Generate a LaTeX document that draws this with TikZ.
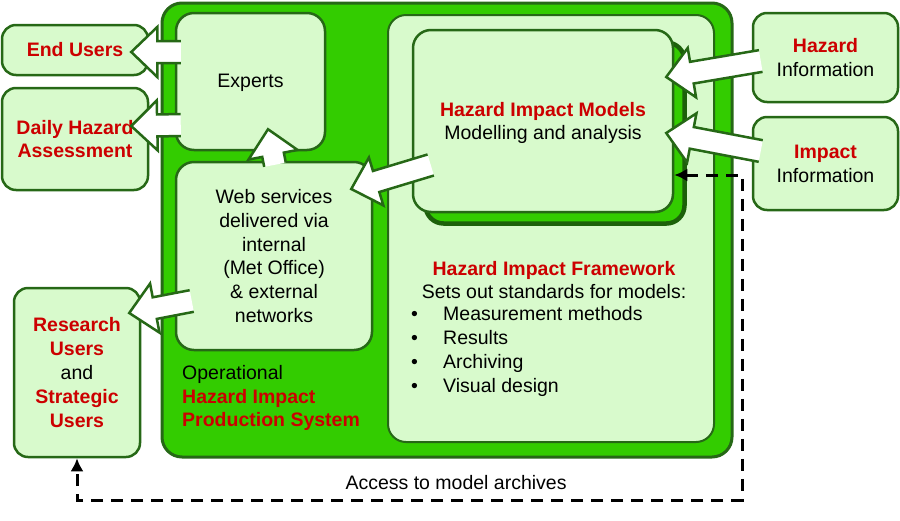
\documentclass[tikz,border=0pt]{standalone}
\usepackage{fontspec}
\setmainfont{Liberation Sans}
\usepackage{xcolor}
\usepackage{tikz}
\usetikzlibrary{arrows.meta,positioning,calc}
\definecolor{hgreen}{RGB}{51,204,0}
\definecolor{hdark}{RGB}{38,104,22}
\definecolor{hshade}{RGB}{28,96,10}
\definecolor{hlight}{RGB}{216,250,204}
\definecolor{hred}{RGB}{204,0,0}
\newcommand{\hz}[1]{\textbf{\color{hred}#1}}
\newcommand{\blockarr}[2]{%
  \coordinate (hb) at ($(#2)!26pt!(#1)$);
  \coordinate (sl) at ($(#1)!11pt!90:(#2)$);
  \coordinate (sr) at ($(#1)!11pt!-90:(#2)$);
  \coordinate (bl) at ($(hb)!11pt!90:(#2)$);
  \coordinate (br) at ($(hb)!11pt!-90:(#2)$);
  \coordinate (hl) at ($(hb)!25pt!90:(#2)$);
  \coordinate (hr) at ($(hb)!25pt!-90:(#2)$);
  \fill[white] (sl) -- (bl) -- (hl) -- (#2) -- (hr) -- (br) -- (sr) -- cycle;
  \draw[barr] (sl) -- (bl) -- (hl) -- (#2) -- (hr) -- (br) -- (sr);}

\begin{document}
\begin{tikzpicture}[x=1pt,y=-1pt,font=\fontsize{19.5}{23.8}\selectfont,
  box/.style={draw=hdark,line width=2.5pt,rounded corners=18pt,fill=hlight,align=center,inner sep=0pt},
  side/.style={box,rounded corners=14pt},
  txt/.style={inner sep=0pt},
  barr/.style={draw=hdark,line width=2.5pt,line join=miter},
  acc/.style={{Latex[length=13pt,width=13pt]}-{Latex[length=13pt,width=13pt]},line width=3pt,dash pattern=on 12pt off 8pt}]
\useasboundingbox (0,0) rectangle (900,520);
\node[box,fill=hgreen,line width=3pt,rounded corners=20pt,minimum width=570,minimum height=454] (sys) at (447,230) {};
\node[box,line width=2pt,minimum width=326,minimum height=427] (fw) at (551,228.5) {};
\node[box,fill=hgreen,draw=hshade,line width=4.5pt,minimum width=259,minimum height=181] (modback) at (555,133) {};
\node[box,minimum width=260,minimum height=182] (mod) at (543,121) {\rule{0pt}{18pt}\hz{Hazard Impact Models}\\Modelling and analysis};
\node[box,minimum width=149,minimum height=137] (experts) at (250.5,81.5) {\rule{0pt}{17pt}Experts};
\node[box,minimum width=196,minimum height=188] (web) at (274,256) {Web services\\delivered via\\internal\\(Met Office)\\\& external\\networks};
\node[txt,anchor=west,align=left] (syslbl) at (182,398) {Operational\\\hz{Hazard Impact}\\\hz{Production System}};
\node[txt,align=center] (fwhead) at (554,280) {\hz{Hazard Impact Framework}\\Sets out standards for models:};
\node[txt,anchor=west,align=left] (fwlist) at (411,351.5) {\makebox[32pt][l]{\textbullet}Measurement methods\\\makebox[32pt][l]{\textbullet}Results\\\makebox[32pt][l]{\textbullet}Archiving\\\makebox[32pt][l]{\textbullet}Visual design};
\node[side,minimum width=146,minimum height=50] (enduser) at (75,50) {\hz{End Users}};
\node[side,minimum width=146,minimum height=102] (daily) at (75,139) {\hz{Daily Hazard}\\\hz{Assessment}};
\node[side,minimum width=126,minimum height=169] (research) at (77,372.5) {\hz{Research}\\\hz{Users}\\and\\\hz{Strategic}\\\hz{Users}};
\node[side,minimum width=145,minimum height=89] (hazinfo) at (825.5,57.5) {\hz{Hazard}\\Information};
\node[side,minimum width=145,minimum height=93] (impinfo) at (825.5,163.5) {\hz{Impact}\\Information};
\coordinate (a1) at ($(experts.west)+(6,-29.5)$); \coordinate (b1) at ($(enduser.east)+(-18,2)$);
\coordinate (a2) at ($(experts.west)+(6,43.5)$); \coordinate (b2) at ($(daily.east)+(-18,-13)$);
\coordinate (a3) at ($(web.north)+(1,4)$); \coordinate (b3) at ($(experts.south)+(17.5,-22)$);
\coordinate (a4) at ($(mod.west)+(19,44)$); \coordinate (b4) at ($(web.east)+(-22,-67)$);
\coordinate (a5) at ($(web.west)+(17,45)$); \coordinate (b5) at ($(research.east)+(-12,-59.5)$);
\coordinate (a6) at ($(hazinfo.west)+(9,3.5)$); \coordinate (b6) at ($(mod.east)+(-8,-44)$);
\coordinate (a7) at ($(impinfo.west)+(9,-12.5)$); \coordinate (b7) at ($(mod.east)+(-8,12)$);
\blockarr{a1}{b1} \blockarr{a2}{b2} \blockarr{a3}{b3} \blockarr{a4}{b4}
\blockarr{a5}{b5} \blockarr{a6}{b6} \blockarr{a7}{b7}
\coordinate (arch1) at (742,175); \coordinate (arch2) at (742,500); \coordinate (arch3) at (77,500);
\draw[acc] (mod.east |- arch1) -- (arch1) -- (arch2) -- node[txt,pos=0.43,yshift=17pt,solid]{Access to model archives} (arch3) -- (research.south);
\end{tikzpicture}
\end{document}
